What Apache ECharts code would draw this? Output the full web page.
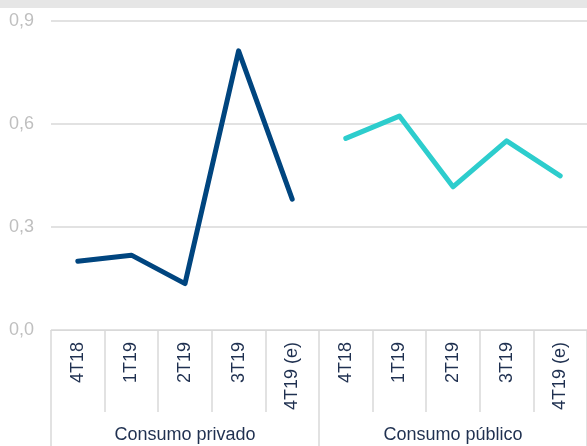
<!DOCTYPE html>
<html>
<head>
<meta charset="utf-8">
<script src="https://cdn.jsdelivr.net/npm/echarts@6/dist/echarts.min.js"></script>
<style>
  html, body { margin: 0; padding: 0; background: #fff; }
  #chart { width: 587px; height: 446px; }
</style>
</head>
<body>
<div id="chart"></div>
<script>
var quarters = ['4T18', '1T19', '2T19', '3T19', '4T19 (e)', '4T18', '1T19', '2T19', '3T19', '4T19 (e)'];
var groups = ['Consumo privado', 'Consumo público'];
var privado = [0.20, 0.218, 0.135, 0.813, 0.381, null, null, null, null, null];
var publico = [null, null, null, null, null, 0.558, 0.623, 0.417, 0.551, 0.449];

// category ids so the repeated quarter names stay separate
var catIds = quarters.map(function(q, i) { return i + ''; });

var myChart = echarts.init(document.getElementById('chart'));
var option = {
    animation: false,
    graphic: [{
        type: 'rect',
        shape: { x: 0, y: 0, width: 587, height: 8 },
        style: { fill: '#e6e6e6' },
        silent: true
    }],
    grid: { left: 51, right: 0, top: 21, bottom: 116 },
    xAxis: [
        {
            type: 'category',
            data: catIds,
            boundaryGap: true,
            axisLine: { show: true, lineStyle: { color: '#d9d9d9', width: 1 } },
            axisTick: { show: true, interval: 0, length: 82, lineStyle: { color: '#d9d9d9', width: 1.5 } },
            axisLabel: {
                interval: 0,
                rotate: 90,
                margin: 12,
                color: '#1f3050',
                fontFamily: 'Liberation Sans',
                fontSize: 18,
                formatter: function(v) { return quarters[+v]; }
            }
        },
        {
            type: 'category',
            position: 'bottom',
            data: groups,
            boundaryGap: true,
            axisLine: { show: false },
            axisTick: { show: true, interval: 0, length: 116, lineStyle: { color: '#d9d9d9', width: 1.5 } },
            axisLabel: {
                interval: 0,
                margin: 96,
                color: '#1f3050',
                fontFamily: 'Liberation Sans',
                fontSize: 18
            }
        }
    ],
    yAxis: {
        type: 'value',
        min: 0,
        max: 0.9,
        interval: 0.3,
        axisLine: { show: false },
        axisTick: { show: false },
        splitLine: { lineStyle: { color: '#d9d9d9', width: 1.5 } },
        axisLabel: {
            margin: 17,
            color: '#bfbfbf',
            fontFamily: 'Liberation Sans',
            fontSize: 18,
            formatter: function(v) { return v.toFixed(1).replace('.', ','); }
        }
    },
    series: [
        {
            name: 'Consumo privado',
            type: 'line',
            data: privado,
            symbol: 'none',
            lineStyle: { color: '#00457f', width: 5, cap: 'round', join: 'round' }
        },
        {
            name: 'Consumo público',
            type: 'line',
            data: publico,
            symbol: 'none',
            lineStyle: { color: '#2dcdcd', width: 5, cap: 'round', join: 'round' }
        }
    ]
};
myChart.setOption(option);
</script>
</body>
</html>
